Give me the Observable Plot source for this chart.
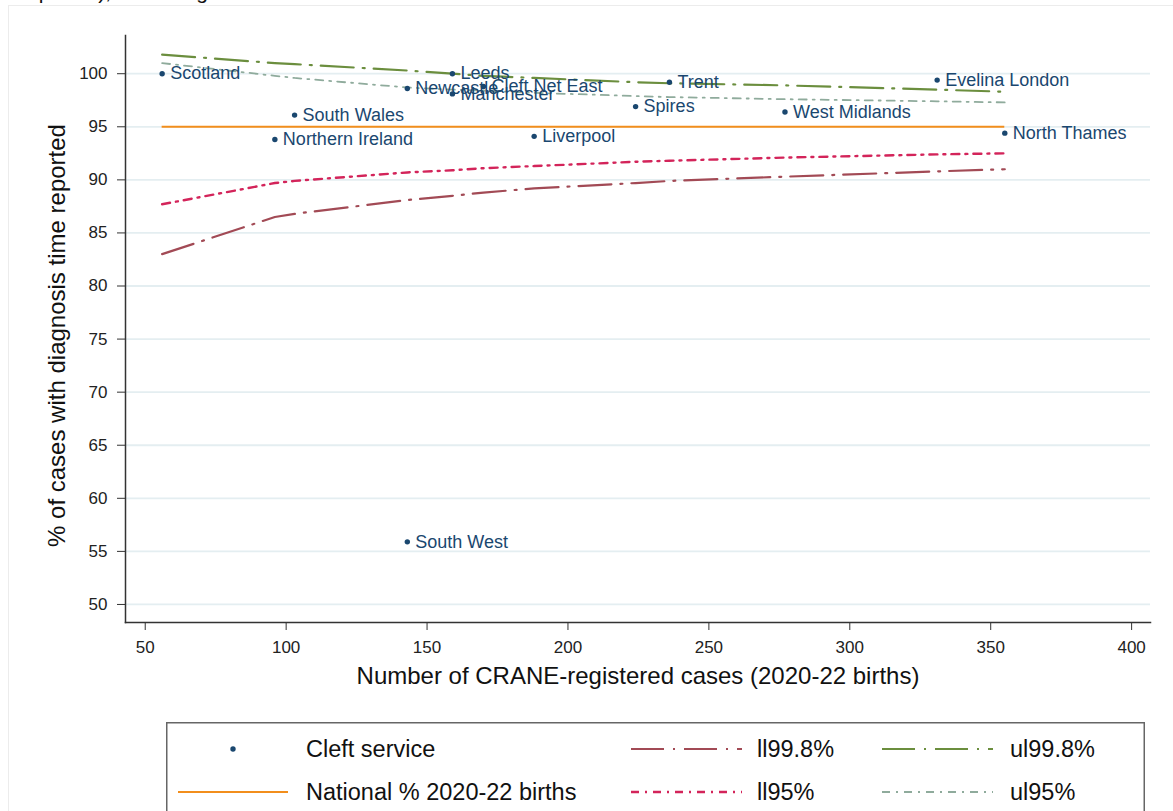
<!DOCTYPE html>
<html>
<head>
<meta charset="utf-8">
<script src="https://cdn.jsdelivr.net/npm/d3@7"></script>
<script src="https://cdn.jsdelivr.net/npm/@observablehq/plot@0.6"></script>
<style>
  html, body { margin: 0; padding: 0; background: #fff; }
  body { width: 1173px; height: 811px; overflow: hidden; position: relative;
         font-family: 'Liberation Sans', Arial, Helvetica, sans-serif; }
  #pageframe { position: absolute; left: 8px; top: 5px; width: 1180px; height: 820px;
               border: 1px solid #ececec; box-sizing: border-box; }
  #toptext { position: absolute; left: 20px; top: -20px; font-size: 21px; line-height: 24px;
             color: #111; white-space: nowrap; }
  #chart { position: absolute; left: 0; top: 0; }
  #legend { position: absolute; left: 166px; top: 722px; }
</style>
</head>
<body>
<div id="pageframe"></div>
<div id="toptext">reported), according</div>
<div id="chart"></div>
<div id="legend"></div>
<script>
// ---------------- data ----------------
const services = ["Scotland", "Northern Ireland", "South Wales", "Newcastle", "South West", "Leeds",
  "Manchester", "Cleft Net East", "Liverpool", "Spires", "Trent", "West Midlands", "Evelina London", "North Thames"];
const cases = [56, 96, 103, 143, 143, 159, 159, 170, 188, 224, 236, 277, 331, 355];
const pctReported = [100, 93.8, 96.1, 98.6, 55.9, 100, 98.1, 98.8, 94.1, 96.9, 99.2, 96.4, 99.4, 94.4];

const nationalPct = 95.0;

// control limits read at each distinct service size
const limitCases = [56, 96, 103, 143, 159, 170, 188, 224, 236, 277, 331, 355];
const ll998 = [83.0, 86.5, 86.8, 88.1, 88.5, 88.8, 89.2, 89.7, 89.9, 90.3, 90.8, 91.0];
const ll95  = [87.7, 89.7, 89.9, 90.7, 90.9, 91.1, 91.3, 91.7, 91.8, 92.1, 92.4, 92.5];
const ul998 = [101.8, 101.0, 100.9, 100.3, 100.0, 99.8, 99.6, 99.2, 99.1, 98.9, 98.5, 98.3];
const ul95  = [101.0, 99.8, 99.6, 98.7, 98.5, 98.4, 98.2, 97.9, 97.8, 97.6, 97.4, 97.3];

const xTicks = [50, 100, 150, 200, 250, 300, 350, 400];
const yTicks = [50, 55, 60, 65, 70, 75, 80, 85, 90, 95, 100];

const xTitle = "Number of CRANE-registered cases (2020-22 births)";
const yTitle = "% of cases with diagnosis time reported";

// ---------------- styles ----------------
const navy = "#1a476f";
const orange = "#f28e1c";
const limitStyles = [
  {name: "ll99.8%", vals: ll998, stroke: "#a24a55", dash: "33,9,2,9", width: 2.2},
  {name: "ll95%",   vals: ll95,  stroke: "#d3245a", dash: "8,6,2,6",  width: 2.4},
  {name: "ul99.8%", vals: ul998, stroke: "#6b8e3e", dash: "33,9,2,9", width: 2.2},
  {name: "ul95%",   vals: ul95,  stroke: "#8fab9c", dash: "8,6,2,6",  width: 1.8}
];

const points = services.map((s, i) => ({service: s, n: cases[i], pct: pctReported[i]}));

const lineMarks = limitStyles.map(s =>
  Plot.line(limitCases.map((n, i) => ({n, v: s.vals[i]})), {
    x: "n", y: "v", stroke: s.stroke, strokeWidth: s.width, strokeDasharray: s.dash
  })
);

const chart = Plot.plot({
  width: 1173,
  height: 700,
  marginLeft: 125,
  marginRight: 23,
  marginTop: 35,
  marginBottom: 78,
  style: {fontFamily: "'Liberation Sans', Arial, sans-serif", color: "#222", background: "transparent", overflow: "visible"},
  x: {domain: [43, 406.7], label: null},
  y: {domain: [48.3, 103.6], label: null},
  marks: [
    Plot.gridY(yTicks, {stroke: "#e4eef1", strokeOpacity: 1, strokeWidth: 1.8}),
    Plot.ruleY([nationalPct], {x1: d3.min(cases), x2: d3.max(cases), stroke: orange, strokeWidth: 2}),
    ...lineMarks,
    Plot.dot(points, {x: "n", y: "pct", r: 2.7, fill: navy, stroke: null}),
    Plot.text(points, {x: "n", y: "pct", text: "service", dx: 8, textAnchor: "start",
      fill: navy, fontSize: 18}),
    Plot.axisY(yTicks, {tickSize: 8, tickPadding: 10, fontSize: 17, label: null, stroke: "#333"}),
    Plot.axisX(xTicks, {tickSize: 8, tickPadding: 10, fontSize: 17, label: null, stroke: "#333"}),
    Plot.frame({anchor: "left", stroke: "#333", strokeWidth: 1.5}),
    Plot.frame({anchor: "bottom", stroke: "#333", strokeWidth: 1.5}),
    Plot.text([yTitle], {frameAnchor: "left", textAnchor: "middle", rotate: -90, dx: -68, dy: 6.5, fontSize: 24, fill: "#111"}),
    Plot.text([xTitle], {frameAnchor: "bottom", textAnchor: "middle", dy: 61, fontSize: 24, fill: "#111"})
  ]
});
document.getElementById("chart").appendChild(chart);

// ---------------- legend ----------------
const legendEntries = [
  {label: "Cleft service", kind: "dot", col: 0, row: 0},
  {label: "National % 2020-22 births", kind: "line", stroke: orange, width: 2, dash: null, col: 0, row: 1},
  {label: limitStyles[0].name, kind: "line", stroke: limitStyles[0].stroke, width: limitStyles[0].width, dash: limitStyles[0].dash, col: 1, row: 0},
  {label: limitStyles[1].name, kind: "line", stroke: limitStyles[1].stroke, width: limitStyles[1].width, dash: limitStyles[1].dash, col: 1, row: 1},
  {label: limitStyles[2].name, kind: "line", stroke: limitStyles[2].stroke, width: limitStyles[2].width, dash: limitStyles[2].dash, col: 2, row: 0},
  {label: limitStyles[3].name, kind: "line", stroke: limitStyles[3].stroke, width: limitStyles[3].width, dash: limitStyles[3].dash, col: 2, row: 1}
];
const colKey = [[12, 122, 140], [465, 576, 591], [716, 827, 844]];
const rowY = [27, 70];
const ns = "http://www.w3.org/2000/svg";
const lsvg = document.createElementNS(ns, "svg");
lsvg.setAttribute("width", 979);
lsvg.setAttribute("height", 110);
lsvg.style.fontFamily = "'Liberation Sans', Arial, sans-serif";
const box = document.createElementNS(ns, "rect");
box.setAttribute("x", 0.75); box.setAttribute("y", 0.75);
box.setAttribute("width", 977.5); box.setAttribute("height", 120);
box.setAttribute("fill", "#fff"); box.setAttribute("stroke", "#666"); box.setAttribute("stroke-width", 1.5);
lsvg.appendChild(box);
legendEntries.forEach(e => {
  const [x1, x2, tx] = colKey[e.col];
  const y = rowY[e.row];
  if (e.kind === "dot") {
    const c = document.createElementNS(ns, "circle");
    c.setAttribute("cx", (x1 + x2) / 2); c.setAttribute("cy", y); c.setAttribute("r", 2.7);
    c.setAttribute("fill", navy);
    lsvg.appendChild(c);
  } else {
    const l = document.createElementNS(ns, "line");
    l.setAttribute("x1", x1); l.setAttribute("x2", x2); l.setAttribute("y1", y); l.setAttribute("y2", y);
    l.setAttribute("stroke", e.stroke); l.setAttribute("stroke-width", e.width);
    if (e.dash) l.setAttribute("stroke-dasharray", e.dash);
    lsvg.appendChild(l);
  }
  const t = document.createElementNS(ns, "text");
  t.setAttribute("x", tx); t.setAttribute("y", y); t.setAttribute("dy", "0.35em");
  t.setAttribute("font-size", 23.5); t.setAttribute("fill", "#111");
  t.textContent = e.label;
  lsvg.appendChild(t);
});
document.getElementById("legend").appendChild(lsvg);
</script>
</body>
</html>
